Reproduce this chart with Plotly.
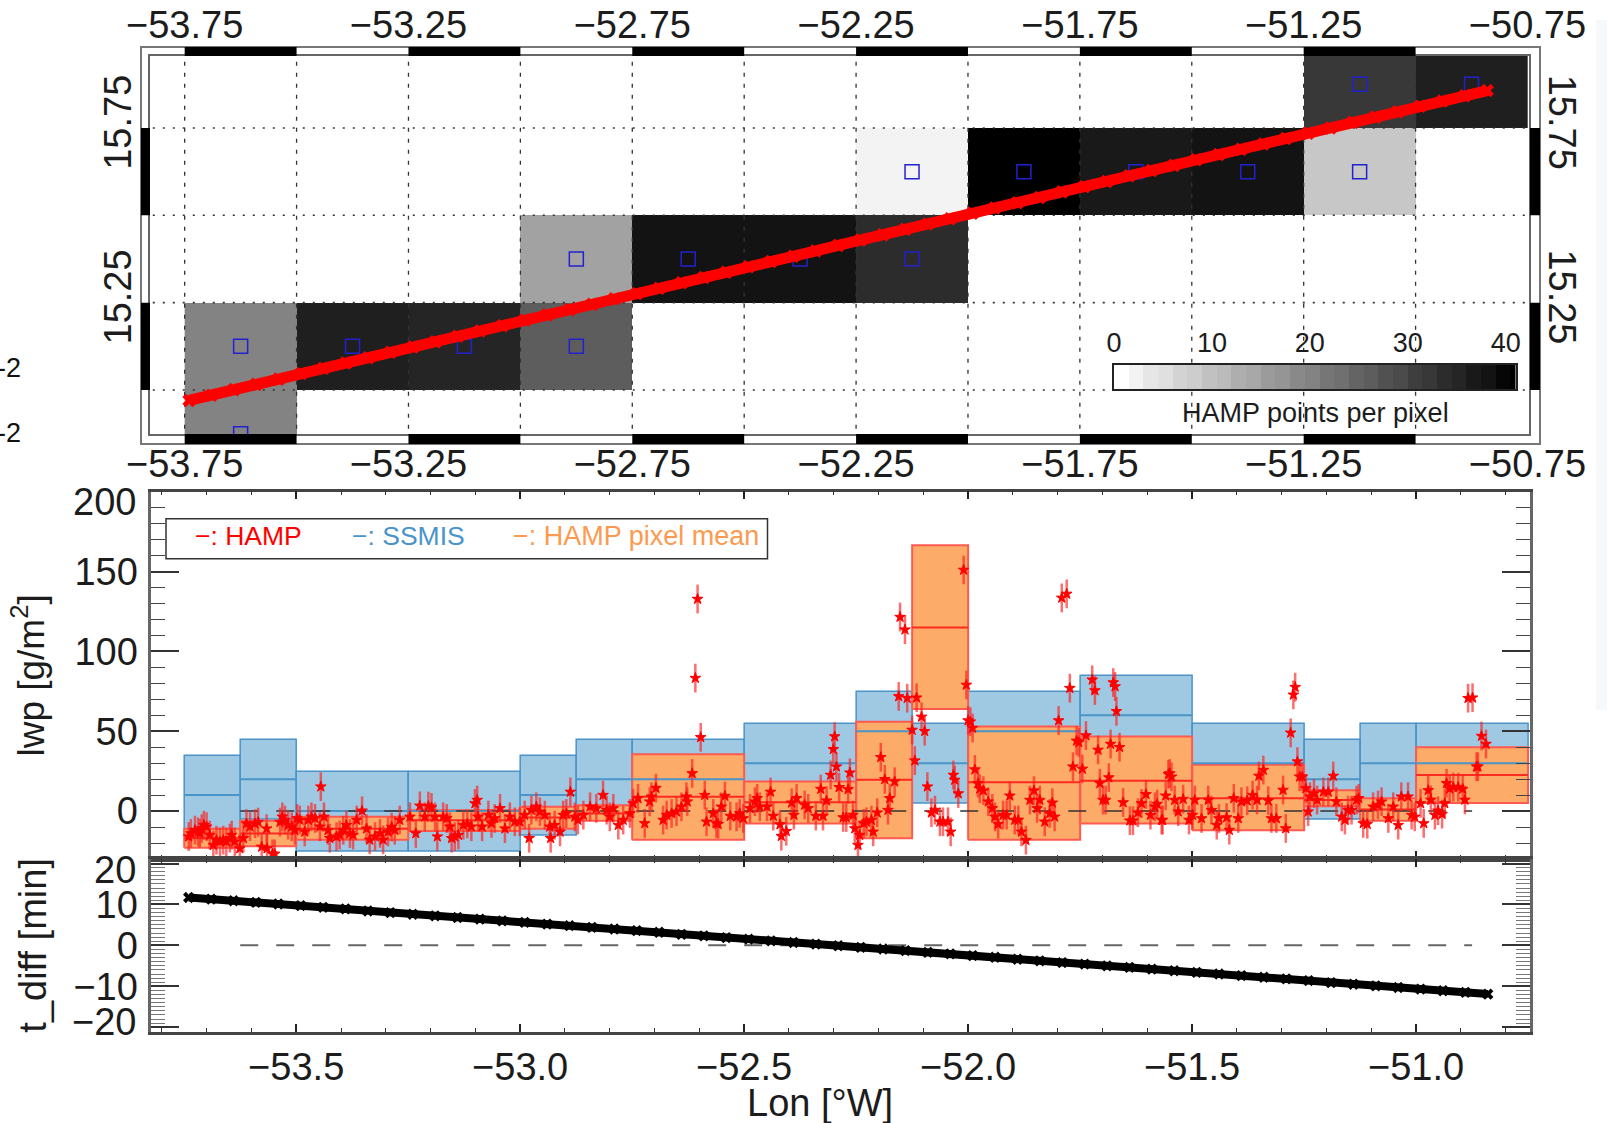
import plotly.graph_objects as go

W, H = 1607, 1123

# ---------------- map panel data ----------------
pixel_lon_edges = [-53.75,-53.5,-53.25,-53.0,-52.75,-52.5,-52.25,-52.0,-51.75,-51.5,-51.25,-51.0,-50.75]
pixel_lat_edges = [14.75,15.0,15.25,15.5,15.75,16.0]
points_per_pixel = [
    [20,None,None,None,None,None,None,None,None,None,None,None],
    [20,36,35,26,None,None,None,None,None,None,None,None],
    [None,None,None,15,38,38,34,None,None,None,None,None],
    [None,None,None,None,None,None,2,41,37,38,9,None],
    [None,None,None,None,None,None,None,None,None,None,32,36],
]
colorbar_edges = [0,1.5,3,4.5,6,7.5,9,10.5,12,13.5,15,16.5,18,19.5,21,22.5,24,25.5,27,28.5,30,31.5,33,34.5,36,37.5,39,40.5,42]
colorbar_levels = [0,2,4,5,7,8,10,11,13,14,16,17,19,20,22,23,25,26,28,29,31,32,34,35,37,38,40,41]
colorbar_ticks = [0,10,20,30,40]
ssmis_lon = [-53.625,-53.625,-53.375,-53.125,-52.875,-52.875,-52.625,-52.375,-52.125,-52.125,-51.875,-51.625,-51.375,-51.125,-51.125,-50.875]
ssmis_lat = [14.875,15.125,15.125,15.125,15.125,15.375,15.375,15.375,15.375,15.625,15.625,15.625,15.625,15.625,15.875,15.875]
track_lon = [-53.74,-53.69,-53.64,-53.59,-53.54,-53.49,-53.44,-53.39,-53.34,-53.29,-53.24,-53.19,-53.14,-53.09,-53.04,
             -52.99,-52.94,-52.89,-52.84,-52.79,-52.74,-52.69,-52.64,-52.59,-52.54,-52.49,-52.44,-52.39,-52.34,-52.29,
             -52.24,-52.19,-52.14,-52.09,-52.04,-51.99,-51.94,-51.89,-51.84,-51.79,-51.74,-51.69,-51.64,-51.59,-51.54,
             -51.49,-51.44,-51.39,-51.34,-51.29,-51.24,-51.19,-51.14,-51.09,-51.04,-50.99,-50.94,-50.89,-50.84]
track_lat = [14.970,14.985,15.001,15.016,15.031,15.047,15.062,15.077,15.092,15.108,15.123,15.138,15.154,15.169,15.184,
             15.200,15.215,15.230,15.245,15.261,15.276,15.291,15.307,15.322,15.337,15.353,15.368,15.383,15.398,15.414,
             15.429,15.444,15.460,15.475,15.490,15.506,15.521,15.536,15.551,15.567,15.582,15.597,15.613,15.628,15.643,
             15.659,15.674,15.689,15.704,15.720,15.735,15.750,15.766,15.781,15.796,15.812,15.827,15.842,15.857]
t_diff = [11.7,11.3,10.9,10.5,10.1,9.7,9.3,8.9,8.4,8.0,7.6,7.2,6.8,6.4,6.0,
          5.6,5.2,4.8,4.4,4.0,3.6,3.2,2.7,2.3,1.9,1.5,1.1,0.7,0.3,-0.1,
          -0.5,-0.9,-1.3,-1.7,-2.1,-2.5,-2.9,-3.4,-3.8,-4.2,-4.6,-5.0,-5.4,-5.8,-6.2,
          -6.6,-7.0,-7.4,-7.8,-8.2,-8.6,-9.1,-9.5,-9.9,-10.3,-10.7,-11.1,-11.5,-11.9]
map_lon_ticks = [-53.75,-53.25,-52.75,-52.25,-51.75,-51.25,-50.75]
map_lat_ticks = [15.25,15.75]
bar_lon_starts = [-53.75,-53.25,-52.75,-52.25,-51.75,-51.25]
bar_lat_starts = [15.0,15.5]
grid_lon = [-53.75,-53.5,-53.25,-53.0,-52.75,-52.5,-52.25,-52.0,-51.75,-51.5,-51.25,-51.0]
grid_lat = [15.0,15.25,15.5,15.75]

# ---------------- box data: lon0, lon1, top, mean, bottom ----------------
box_lon0 = [-53.75,-53.625,-53.5,-53.25,-53.0,-52.875,-52.75,-52.5,-52.25,-52.125,-52.0,-51.75,-51.5,-51.25,-51.125,-51.0]
box_lon1 = [-53.625,-53.5,-53.25,-53.0,-52.875,-52.75,-52.5,-52.25,-52.125,-52.0,-51.75,-51.5,-51.25,-51.125,-51.0,-50.75]
ssmis_top = [35,45,25,25,35,45,45,55,75,55,75,85,55,45,55,55]
ssmis_mean = [10,20,0,0,10,20,20,30,50,30,50,60,30,20,30,30]
ssmis_bot = [-15,-5,-25,-25,-15,-5,-5,5,25,5,25,35,5,-5,5,5]
pixel_top = [-11,-6,-3.5,0.5,2.7,3.7,35.6,18.6,56,166.5,53,46.7,29,13,8,40]
pixel_mean = [-17,-14,-11,-5.7,-4,-1.5,9,5.6,19.7,115,18,19,8,7,1,22.6]
pixel_bot = [-23,-22,-18,-12.5,-11,-6,-18,-7.7,-17,64,-18,-7.7,-12,3,-6,5]

# ---------------- HAMP along-track retrievals ----------------
hamp_lon = [-53.74,-53.735,-53.726,-53.719,-53.715,-53.711,-53.706,-53.700,-53.693,-53.685,-53.678,-53.670,-53.663,-53.656,-53.648,-53.644,-53.637,-53.626,
-53.618,-53.611,-53.603,-53.592,-53.585,-53.577,-53.566,-53.565,-53.553,-53.548,-53.536,-53.531,-53.525,-53.518,-53.510,-53.503,
-53.498,-53.492,-53.481,-53.473,-53.466,-53.458,-53.445,-53.447,-53.438,-53.429,-53.425,-53.410,-53.403,-53.395,-53.388,-53.380,-53.373,-53.365,-53.353,
-53.343,-53.336,-53.324,-53.313,-53.306,-53.295,-53.287,-53.280,-53.269,-53.246,-53.233,-53.224,-53.213,-53.205,-53.198,-53.190,-53.185,-53.172,-53.164,
-53.157,-53.153,-53.146,-53.138,-53.127,-53.118,-53.109,-53.101,-53.096,-53.094,-53.085,-53.071,-53.064,-53.057,-53.045,-53.034,-53.023,-53.012,-53.001,
-52.990,-52.980,-52.975,-52.964,-52.956,-52.945,-52.934,-52.932,-52.923,-52.911,-52.904,-52.897,-52.888,-52.878,-52.871,-52.859,-52.844,-52.830,-52.815,
-52.807,-52.800,-52.792,-52.781,-52.770,-52.755,-52.748,-52.737,-52.722,-52.711,-52.707,-52.697,-52.681,-52.673,-52.662,-52.651,-52.640,-52.629,-52.627,
-52.616,-52.609,-52.604,-52.597,-52.588,-52.584,-52.569,-52.562,-52.558,-52.551,-52.543,-52.531,-52.517,-52.510,-52.502,-52.487,-52.476,-52.471,-52.465,
-52.449,-52.441,-52.435,-52.420,-52.417,-52.406,-52.394,-52.389,-52.383,-52.365,-52.357,-52.340,-52.329,-52.324,-52.316,-52.307,-52.301,-52.298,-52.294,
-52.288,-52.279,-52.272,-52.268,-52.264,-52.257,-52.253,-52.246,-52.242,-52.233,-52.227,-52.216,-52.212,-52.203,-52.195,-52.186,-52.179,-52.175,-52.164,
-52.155,-52.152,-52.141,-52.136,-52.125,-52.119,-52.115,-52.104,-52.097,-52.091,-52.082,-52.074,-52.063,-52.056,-52.045,-52.039,-52.033,-52.030,-52.022,
-52.010,-52.004,-52.000,-51.995,-51.990,-51.985,-51.978,-51.974,-51.966,-51.955,-51.946,-51.940,-51.933,-51.922,-51.914,-51.907,-51.896,-51.888,-51.881,
-51.871,-51.862,-51.853,-51.846,-51.840,-51.829,-51.818,-51.812,-51.807,-51.798,-51.791,-51.780,-51.773,-51.766,-51.758,-51.753,-51.745,-51.737,-51.723,
-51.717,-51.710,-51.706,-51.699,-51.693,-51.686,-51.682,-51.676,-51.672,-51.669,-51.662,-51.654,-51.639,-51.632,-51.621,-51.613,-51.603,-51.593,-51.583,
-51.578,-51.568,-51.559,-51.553,-51.566,-51.550,-51.546,-51.539,-51.531,-51.520,-51.507,-51.499,-51.494,-51.479,-51.464,-51.457,-51.445,-51.440,-51.423,
-51.417,-51.407,-51.397,-51.390,-51.377,-51.365,-51.355,-51.351,-51.341,-51.330,-51.323,-51.312,-51.297,-51.291,-51.280,-51.274,-51.270,-51.265,-51.260,
-51.254,-51.246,-51.241,-51.237,-51.228,-51.221,-51.207,-51.196,-51.185,-51.178,-51.166,-51.159,-51.152,-51.144,-51.133,-51.128,-51.118,-51.109,-51.096,
-51.085,-51.077,-51.062,-51.051,-51.040,-51.033,-51.018,-51.010,-51.003,-50.990,-50.983,-50.973,-50.967,-50.958,-50.951,-50.942,-50.936,-50.932,-50.925,
-50.917,-50.906,-50.896,-50.891,-50.884,-50.874,-50.865,-50.862,-50.854,-50.844]
hamp_lwp = [-16,-14,-11.9,-13,-14,-10.9,-8.8,-9.8,-15,-21.3,-18.2,-19.2,-18.2,-19.2,-17,-15,-19.2,-23.4,
-17,-7.9,-9.8,-7.9,-6.9,-22.4,-11,-23.4,-26.8,-26.8,-6.9,-3.6,-5.6,-8.8,-9.8,-12,
-4.6,-5.6,-13,-5.6,-3.6,-4.6,15.3,-9.8,-3.6,-12,-17,-16,-15,-12,-8.8,-14,-15,-5.6,0.2,
-11,-18,-16,-14,-18,-13,-10,-12,-5.6,-3.6,-14,3.3,-3.6,3.1,2.3,-3.6,-16,-3.6,-4.6,
-9.8,-17,-16,-15,-8.8,-8,-9.8,4.8,6.9,-3.6,-9.8,-2.5,-7.7,-4.6,1.7,-11,-3.6,-6.7,-6.7,
-2.5,-17,0.6,2.7,-0.4,-2.5,-9.8,-17,-8.8,-13,-2.5,-1.5,12,-3.6,-5.6,-2.5,2.7,1.7,10,
0.6,-3.6,1.7,-8.8,-5.6,-1.5,4.8,8,-7.7,5.9,9,14.4,-5.6,-2.5,-1.5,-0.4,2.7,9,5.9,
23.6,83.3,132.8,46.2,10,-6.7,-1.5,-7.7,-8.2,2.7,9.4,-3.1,-3.6,-1.5,-4.6,1.7,5.9,8,2.7,
2.7,12,-3.1,-8.4,-15.7,-12.6,5.2,-2.5,8,3.8,1.7,-3.1,13.8,-3.1,6.5,22.6,38.7,46.7,27.8,
14.9,-4,-4,13.6,24,-2.5,-10.9,-21.3,-15,-7.7,-6.7,-5.6,-13,-1,33.7,19.9,0.6,8,18.4,
71.8,121.5,113.6,70.7,50.8,31.6,71,59,50,15.3,-1,0.6,-6.7,-6.7,-6.7,-13,22.6,19.5,11,
151,79,56.7,56,52,26,17.4,14,12.8,5.9,1.7,-3.6,-8.2,-2.5,-2.5,9.6,-5.6,-5.6,-13,
-18.2,6.9,12.8,1.7,6.9,-6.7,-1.5,5.2,-3.6,56.7,133.5,136,77,27.8,44,43,26.4,47.3,82.2,
75.5,38.3,17.4,6.9,6.9,21,42,80.5,78,62.5,40,5.4,-6,-6,-1,4.8,10.5,-2.5,2.7,
4.4,-5.6,9.6,23,-5.6,23.6,21.5,6.9,-0.4,7.5,-5.6,-2.5,6.9,-4.6,6.9,0.6,-8.8,-4.6,-4,
-11.9,8,-4.6,5.9,6.5,10,6.9,22,25.7,6.5,-4.6,-4.6,13.2,-10.9,49,72.8,77.6,31,21.5,
21.5,14.2,-0.4,9,11,6.9,12,12,22,5.9,-3.6,-5.6,0.6,0.6,6.9,8,-7.7,-8.2,2.7,
3.8,5.9,-4.6,2.7,-8.8,9,9,-2.5,-3.6,4.8,-7.7,13,7,-2.5,0.2,-1.9,4.8,17.4,14,
15,15,13.8,7,70.7,71,27.8,27.8,47,42]
hamp_err = 9
zero_lon = [-53.625,-50.875]
zero_val = [0,0]

lwp_ticks = [0,50,100,150,200]
lwp_ticktext = ["0","50","100","150"," "]
tdiff_ticks = [-20,-10,0,10,20]
tdiff_ticktext = [" ","−10","0","10"," "]
lon_ticks = [-53.5,-53.0,-52.5,-52.0,-51.5,-51.0]

# ---------------- styles ----------------
FONT = "Liberation Sans"
TXT = "#1c1c1c"
BLUE_LINE = "#4a94c8"
BLUE_FILL = "#9fc9e2"
ORANGE_FILL = "#fdab68"
RED_EDGE = "#ff5a50"
RED = "#ff0000"
GRAYS = [[0, "#ffffff"], [1, "#000000"]]

def xdom(a, b): return [a / W, b / W]
def ydom(top, bot): return [1 - bot / H, 1 - top / H]

def box_path(x0, x1, y0, y1):
    xs, ys = [], []
    for a, b, c, d in zip(x0, x1, y0, y1):
        xs += [a, b, b, a, a, None]
        ys += [c, c, d, d, c, None]
    return xs, ys

def seg_path(x0, x1, y):
    xs, ys = [], []
    for a, b, c in zip(x0, x1, y):
        xs += [a, b, None]
        ys += [c, c, None]
    return xs, ys

fig = go.Figure()

# --- map: heatmap and grid on x/y
fig.add_trace(go.Heatmap(
    x=pixel_lon_edges, y=pixel_lat_edges, z=points_per_pixel, zmin=0, zmax=41, hoverongaps=False,
    colorscale=GRAYS, xaxis="x", yaxis="y", showscale=False))
gx, gy = [], []
for v in grid_lon:
    gx += [v, v, None]; gy += [14.7, 16.1, None]
fig.add_trace(go.Scatter(x=gx, y=gy, mode="lines", xaxis="x", yaxis="y", hoverinfo="skip",
                         line=dict(color="#333", width=1.3, dash="4px,7px")))
gx, gy = [], []
for v in grid_lat:
    gx += [-54, -50.5, None]; gy += [v, v, None]
fig.add_trace(go.Scatter(x=gx, y=gy, mode="lines", xaxis="x", yaxis="y", hoverinfo="skip",
                         line=dict(color="#333", width=1.6, dash="2px,8px")))
# --- map overlay: squares and flight track on top/right axes
fig.add_trace(go.Scatter(x=ssmis_lon, y=ssmis_lat, mode="markers", xaxis="x2", yaxis="y2", name="SSMIS",
                         marker=dict(symbol="square-open", size=14, color="#2222cc", line=dict(width=1.5, color="#2222cc"))))
fig.add_trace(go.Scatter(x=track_lon, y=track_lat, mode="lines+markers", xaxis="x2", yaxis="y2", name="HAMP track",
                         line=dict(color=RED, width=11), marker=dict(symbol="x", size=12, color=RED)))

# --- colour key on its own axis
fig.add_trace(go.Heatmap(x=colorbar_edges, y=[0, 1], z=[colorbar_levels], zmin=0, zmax=41, colorscale=GRAYS,
                         showscale=False, xaxis="x5", yaxis="y5", hoverinfo="skip"))

# --- lwp panel
xs, ys = box_path(box_lon0, box_lon1, ssmis_bot, ssmis_top)
fig.add_trace(go.Scatter(x=xs, y=ys, mode="lines", fill="toself", fillcolor=BLUE_FILL, xaxis="x3", yaxis="y3",
                         line=dict(color=BLUE_LINE, width=1.5), name="SSMIS", hoverinfo="skip"))
xs, ys = box_path(box_lon0, box_lon1, pixel_bot, pixel_top)
fig.add_trace(go.Scatter(x=xs, y=ys, mode="lines", fill="toself", fillcolor=ORANGE_FILL, xaxis="x3", yaxis="y3",
                         line=dict(color=RED_EDGE, width=2), name="HAMP pixel mean", hoverinfo="skip"))
xs, ys = seg_path(box_lon0, box_lon1, ssmis_mean)
fig.add_trace(go.Scatter(x=xs, y=ys, mode="lines", xaxis="x3", yaxis="y3", line=dict(color=BLUE_LINE, width=2),
                         name="SSMIS mean", hoverinfo="skip"))
xs, ys = seg_path(box_lon0, box_lon1, pixel_mean)
fig.add_trace(go.Scatter(x=xs, y=ys, mode="lines", xaxis="x3", yaxis="y3", line=dict(color="#ff2a20", width=2),
                         name="pixel mean", hoverinfo="skip"))
fig.add_trace(go.Scatter(x=zero_lon, y=zero_val, mode="lines", xaxis="x3", yaxis="y3", hoverinfo="skip",
                         line=dict(color="#333", width=1.5, dash="18px,18px")))
fig.add_trace(go.Scatter(x=hamp_lon, y=hamp_lwp, mode="markers", xaxis="x3", yaxis="y3", name="HAMP",
                         error_y=dict(type="constant", value=hamp_err, thickness=2.5, width=0, color="rgba(255,30,30,0.65)"),
                         marker=dict(symbol="star", size=8, color=RED, line=dict(width=1, color=RED))))

# --- t_diff panel
fig.add_trace(go.Scatter(x=zero_lon, y=zero_val, mode="lines", xaxis="x4", yaxis="y4", hoverinfo="skip",
                         line=dict(color="#666", width=2, dash="18px,18px")))
fig.add_trace(go.Scatter(x=track_lon, y=t_diff, mode="lines+markers", xaxis="x4", yaxis="y4", name="t_diff",
                         line=dict(color="#000", width=8), marker=dict(symbol="x", size=10, color="#000")))

# --- black map border bars and frame
shapes = []
for a in bar_lon_starts:
    for top, bot in ((47, 56), (434, 444)):
        shapes.append(dict(type="rect", xref="x", yref="paper", x0=a, x1=a + 0.25, y0=1 - bot / H, y1=1 - top / H,
                           fillcolor="#000", line=dict(width=0)))
for a in bar_lat_starts:
    for l, r in ((141, 150), (1530, 1540)):
        shapes.append(dict(type="rect", xref="paper", yref="y", x0=l / W, x1=r / W, y0=a, y1=a + 0.25,
                           fillcolor="#000", line=dict(width=0)))
shapes.append(dict(type="rect", xref="paper", yref="paper", x0=141 / W, x1=1540 / W, y0=1 - 444 / H, y1=1 - 47 / H,
                   line=dict(color="#777", width=2), layer="below"))
shapes.append(dict(type="rect", xref="paper", yref="paper", x0=166 / W, x1=767.5 / W, y0=1 - 558.7 / H, y1=1 - 518.7 / H,
                   line=dict(color="#333", width=1.5), fillcolor="#fff"))
# faint background watermark at the right page edge
shapes.append(dict(type="rect", xref="paper", yref="paper", x0=1596 / W, x1=1, y0=1 - 710 / H, y1=1 - 20 / H,
                   line=dict(width=0), fillcolor="#f6f8fa", layer="below"))

def ann(text, x, y, color=TXT, size=26, anchor="left", **kw):
    return dict(text=text, x=x / W, y=1 - y / H, xref="paper", yref="paper", showarrow=False,
                xanchor=anchor, yanchor="middle", font=dict(family=FONT, size=size, color=color), **kw)

TICK_SIZE = 38
annotations = [
    ann("−: HAMP", 193, 536, RED, 26.5),
    ann("−: SSMIS", 350, 536, "#4a94c8", 26.5),
    ann("−: HAMP pixel mean", 511, 536, "#fd9a50", 27),
    ann("Lon [°W]", 820, 1103, size=38, anchor="center"),
    ann("HAMP points per pixel", 1315, 413, size=27, anchor="center"),
    ann("-2", 23, 368, "#111", 27, "right"),
    ann("-2", 23, 433, "#111", 27, "right"),
    ann("200", 138, 502, size=TICK_SIZE, anchor="right"),
    ann("20", 138, 870, size=TICK_SIZE, anchor="right"),
    ann("−20", 138, 1022, size=TICK_SIZE, anchor="right"),
]

TICKFONT = dict(family=FONT, size=TICK_SIZE, color=TXT)
map_xr = [-53.8286, -50.7466]
map_yr = [14.874, 15.956]
panel_xr = [-53.8237, -50.7453]
AX = "#666"
hidden_tick = "rgba(0,0,0,0)"

fig.update_layout(
    width=W, height=H, autosize=False, margin=dict(l=0, r=0, t=0, b=0, autoexpand=False), showlegend=False,
    paper_bgcolor="#fff", plot_bgcolor="#fff", shapes=shapes, annotations=annotations,
    xaxis=dict(domain=xdom(149.5, 1529), range=map_xr, anchor="y", side="bottom", showgrid=False, zeroline=False,
               tickvals=map_lon_ticks, tickformat=".2f", ticks="", ticklabelstandoff=-5,
               tickfont=TICKFONT, showline=True, linecolor=AX, linewidth=2, mirror=True),
    yaxis=dict(domain=ydom(56, 434), range=map_yr, anchor="x", showgrid=False, zeroline=False,
               tickvals=map_lat_ticks, tickformat=".2f", tickangle=-90, ticks="outside", ticklen=1, tickcolor=hidden_tick,
               tickfont=TICKFONT, showline=True, linecolor=AX, linewidth=2, mirror=True),
    xaxis2=dict(domain=xdom(149.5, 1529), range=map_xr, anchor="y2", overlaying="x", side="top", showgrid=False, zeroline=False,
                tickvals=map_lon_ticks, tickformat=".2f", ticks="outside", ticklen=2, tickcolor=hidden_tick, tickfont=TICKFONT),
    yaxis2=dict(domain=ydom(56, 434), range=map_yr, anchor="x2", overlaying="y", side="right", showgrid=False, zeroline=False,
                tickvals=map_lat_ticks, tickformat=".2f", tickangle=90, ticks="outside", ticklen=4, tickcolor=hidden_tick, tickfont=TICKFONT),
    xaxis3=dict(domain=xdom(151.2, 1530.2), range=panel_xr, anchor="y3", showgrid=False, zeroline=False,
                showticklabels=False, tickvals=lon_ticks, ticks="inside", ticklen=8, tickcolor="#222", tickwidth=1.5,
                minor=dict(dtick=0.1, tick0=-53.5, ticks="inside", ticklen=4, tickcolor="#333", tickwidth=1.2),
                showline=True, linecolor="#444", linewidth=2.5, mirror="ticks"),
    yaxis3=dict(domain=ydom(491.7, 859), range=[-30, 200], anchor="x3", showgrid=False, zeroline=False,
                tickvals=lwp_ticks, ticktext=lwp_ticktext, ticks="inside", ticklen=28, tickcolor="#333", tickwidth=1.5, ticklabelstandoff=3,
                minor=dict(dtick=10, tick0=0, ticks="inside", ticklen=14, tickcolor="#444", tickwidth=1.3),
                tickfont=TICKFONT, showline=True, linecolor=AX, linewidth=2.5, mirror="ticks",
                title=dict(text="lwp [g/m<sup>2</sup>]", font=dict(family=FONT, size=37, color=TXT), standoff=19)),
    xaxis4=dict(domain=xdom(151.2, 1530.2), range=panel_xr, anchor="y4", showgrid=False, zeroline=False,
                tickvals=lon_ticks, tickformat=".1f", ticks="inside", ticklen=8, tickcolor="#222", tickwidth=1.5,
                minor=dict(dtick=0.1, tick0=-53.5, ticks="inside", ticklen=4, tickcolor="#333", tickwidth=1.2),
                tickfont=TICKFONT, showline=True, linecolor="#444", linewidth=2.5, mirror="ticks"),
    yaxis4=dict(domain=ydom(859, 1031.7), range=[-21.1, 21.1], anchor="x4", showgrid=False, zeroline=False,
                tickvals=tdiff_ticks, ticktext=tdiff_ticktext, ticks="inside", ticklen=28, tickcolor="#333", tickwidth=1.5, ticklabelstandoff=3,
                minor=dict(dtick=1, tick0=0, ticks="inside", ticklen=14, tickcolor="#777", tickwidth=1.2),
                tickfont=TICKFONT, showline=True, linecolor=AX, linewidth=2.5, mirror="ticks",
                title=dict(text="t_diff [min]", font=dict(family=FONT, size=38, color=TXT), standoff=16)),
    xaxis5=dict(domain=xdom(1114, 1515.5), range=[0, 41], anchor="y5", side="top", showgrid=False, zeroline=False,
                tickvals=colorbar_ticks, ticks="", 
                tickfont=dict(family=FONT, size=27, color=TXT), showline=True, linecolor="#222", linewidth=1.5, mirror=True),
    yaxis5=dict(domain=ydom(365, 389), range=[0, 1], anchor="x5", showticklabels=False, ticks="", showgrid=False, zeroline=False,
                showline=True, linecolor="#222", linewidth=1.5, mirror=True),
)

fig.write_html("out.html", config={"displayModeBar": False},
               post_script="document.body.style.margin='0';document.documentElement.style.overflow='hidden';")
